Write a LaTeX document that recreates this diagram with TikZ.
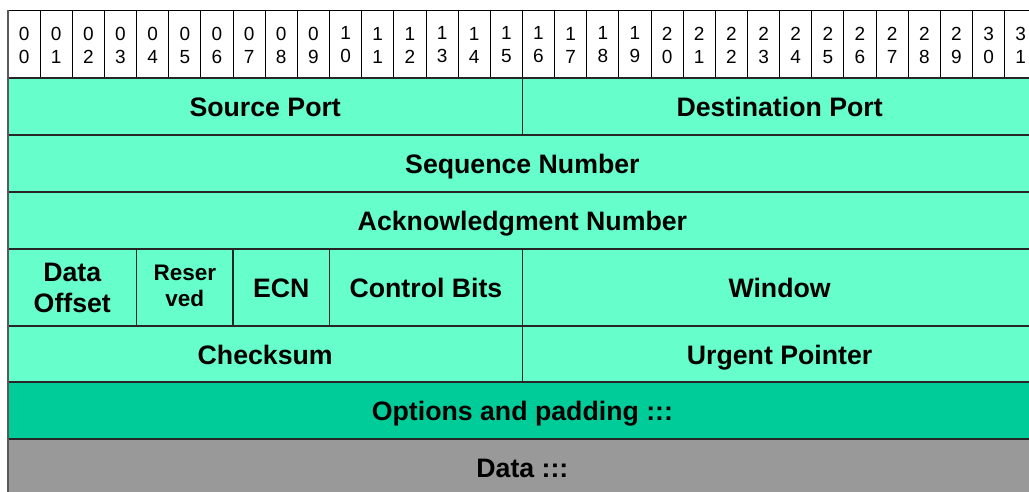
\documentclass[tikz,border=0pt]{standalone}
\usepackage{fontspec}
\setmainfont{Liberation Sans}
\definecolor{fieldgreen}{HTML}{66FFCC}
\definecolor{optgreen}{HTML}{00CC99}
\definecolor{datagray}{HTML}{999999}
\begin{document}
\begin{tikzpicture}[x=32.15pt,y=-1pt,
  fieldbox/.style={draw=black!85,line width=1.2pt,fill=fieldgreen},
  fieldtext/.style={font=\fontsize{26.7}{31}\selectfont\bfseries,align=center,anchor=base},
  pairtext/.style={font=\fontsize{26.7}{31}\selectfont\bfseries,align=center},
  smalltext/.style={font=\fontsize{22.5}{26}\selectfont\bfseries,align=center},
  bitnum/.style={font=\fontsize{19}{23}\selectfont,align=center}]
  \useasboundingbox (-0.2488,0) rectangle (31.757,491);

  % bit numbers
  \foreach \i in {0,...,31} {
    \pgfmathtruncatemacro{\tens}{\i/10}
    \pgfmathtruncatemacro{\ones}{mod(\i,10)}
    \draw[draw=black,line width=0.9pt,fill=white] (\i,10) rectangle (\i+1,78);
    \node[bitnum] (bit\i) at (\i+0.5,45) {\tens\\\ones};
  }

  \draw[fieldbox] (0,78) rectangle (16,135);
  \node[fieldtext] (srcport) at (8,116.5) {Source Port};
  \draw[fieldbox] (16,78) rectangle (32,135);
  \node[fieldtext] (dstport) at (24,116.5) {Destination Port};

  \draw[fieldbox] (0,135) rectangle (32,192);
  \node[fieldtext] (seqnum) at (16,173.5) {Sequence Number};

  \draw[fieldbox] (0,192) rectangle (32,249);
  \node[fieldtext] (acknum) at (16,230.5) {Acknowledgment Number};

  \draw[fieldbox] (0,249) rectangle (4,326);
  \node[pairtext] (offset) at (2,288) {Data\\Offset};
  \draw[fieldbox] (4,249) rectangle (7,326);
  \node[smalltext] (reserved) at (5.5,286) {Reser\\ved};
  \draw[fieldbox] (7,249) rectangle (10,326);
  \node[fieldtext] (ecn) at (8.5,297) {ECN};
  \draw[fieldbox] (10,249) rectangle (16,326);
  \node[fieldtext] (ctrlbits) at (13,297) {Control Bits};
  \draw[fieldbox] (16,249) rectangle (32,326);
  \node[fieldtext] (window) at (24,297) {Window};

  \draw[fieldbox] (0,326) rectangle (16,382);
  \node[fieldtext] (checksum) at (8,364) {Checksum};
  \draw[fieldbox] (16,326) rectangle (32,382);
  \node[fieldtext] (urgent) at (24,364) {Urgent Pointer};

  \draw[fieldbox,fill=optgreen] (0,382) rectangle (32,439);
  \node[fieldtext] (options) at (16,420.5) {Options and padding :::};

  \draw[fieldbox,fill=datagray] (0,439) rectangle (32,496);
  \node[fieldtext] (data) at (16,477) {Data :::};

  \draw[line width=2pt,color=black!65] (0,10) -- (0,496);
\end{tikzpicture}
\end{document}
